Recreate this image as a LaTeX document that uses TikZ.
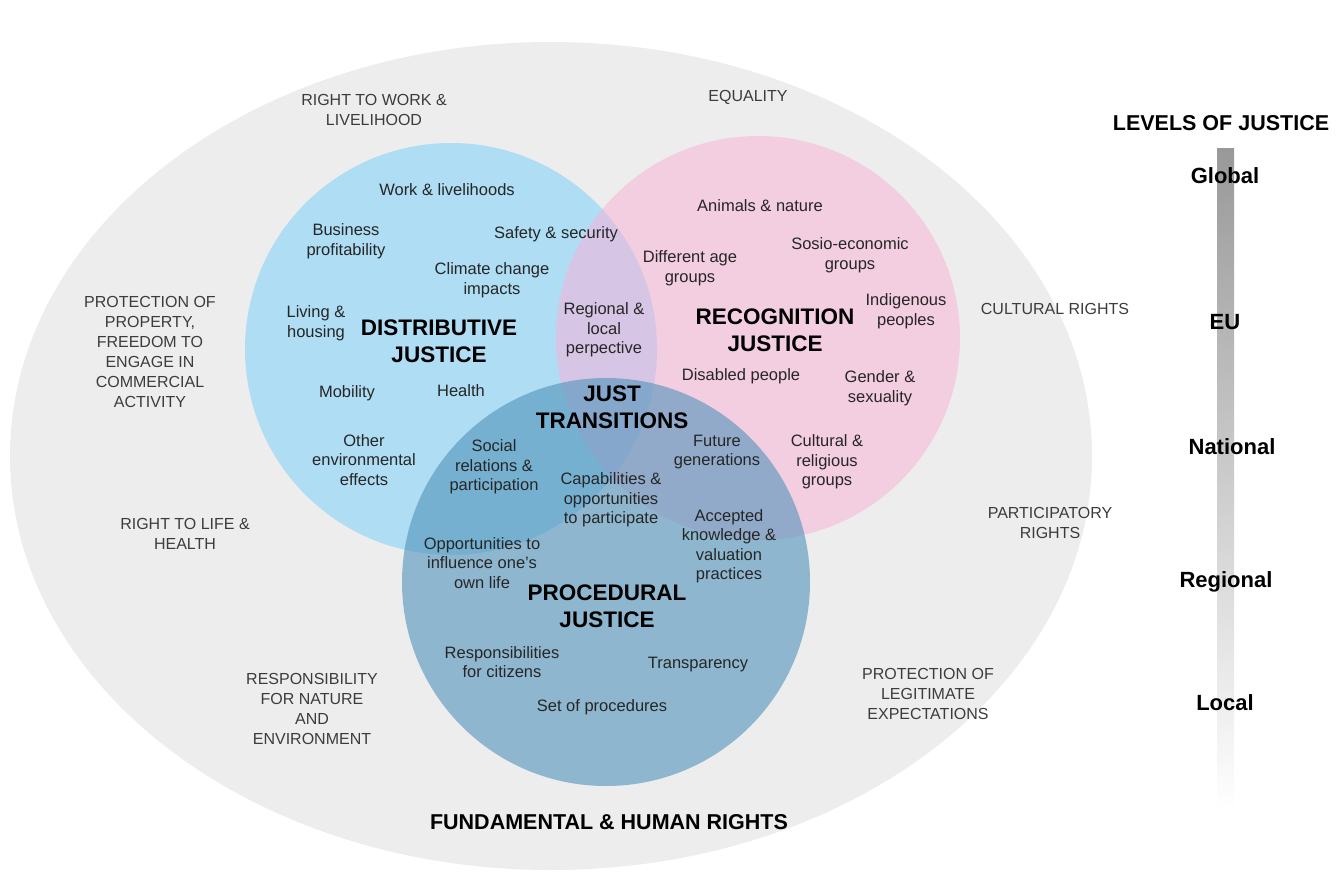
\documentclass[tikz,border=0pt]{standalone}
\usepackage{fontspec}
\setmainfont{Liberation Sans}
\usepackage{tikz}
\usepackage{xcolor}
\definecolor{rights-gray}{RGB}{237,237,237}
\definecolor{distributive-blue}{RGB}{174,221,244}
\definecolor{recognition-pink}{RGB}{248,179,215}
\definecolor{procedural-blue}{RGB}{80,147,187}
\definecolor{text-dark}{RGB}{38,38,38}
\tikzset{
    item-text/.style = {text=text-dark, align=center, inner sep=0pt, font=\fontsize{16.5}{19.5}\selectfont},
    rights-text/.style = {text=text-dark!90, align=center, inner sep=0pt, font=\fontsize{16}{20}\selectfont},
    justice-title/.style = {text=black, align=center, inner sep=0pt, font=\bfseries\fontsize{22.5}{27.5}\selectfont},
    level-text/.style = {text=black, inner sep=0pt, font=\bfseries\fontsize{22}{26}\selectfont},
}

\begin{document}
\begin{tikzpicture}[x=1pt, y=-1pt]
\useasboundingbox (0,0) rectangle (1343,879);
\fill[white] (0,0) rectangle (1343,879);
\fill[rights-gray] (551,456) ellipse [x radius=541, y radius=414];
\fill[distributive-blue] (451,349) circle [radius=206];
\fill[recognition-pink, opacity=0.55] (758,338) circle [radius=202];
\fill[procedural-blue, opacity=0.6] (606,582) circle [radius=204];
\shade[top color=black!40, middle color=black!18, bottom color=white] (1217,148) rectangle (1234,812);

\node[rights-text] (work-right) at (374,110) {RIGHT TO WORK \&\\LIVELIHOOD};
\node[rights-text] (equality) at (748,97) {EQUALITY};
\node[rights-text] (property) at (150,352) {PROTECTION OF\\PROPERTY,\\FREEDOM TO\\ENGAGE IN\\COMMERCIAL\\ACTIVITY};
\node[rights-text] (cultural-rights) at (1055,309) {CULTURAL RIGHTS};
\node[rights-text] (life-right) at (185,534) {RIGHT TO LIFE \&\\HEALTH};
\node[rights-text] (participatory) at (1050,523) {PARTICIPATORY\\RIGHTS};
\node[rights-text] (nature-resp) at (312,709) {RESPONSIBILITY\\FOR NATURE\\AND\\ENVIRONMENT};
\node[rights-text] (expectations) at (928,694) {PROTECTION OF\\LEGITIMATE\\EXPECTATIONS};
\node[justice-title, font=\bfseries\fontsize{21.5}{26}\selectfont] (fundamental) at (609,822) {FUNDAMENTAL \& HUMAN RIGHTS};

\node[item-text] (work) at (447,190) {Work \& livelihoods};
\node[item-text] (business) at (346,241) {Business\\profitability};
\node[item-text] (safety) at (556,234) {Safety \& security};
\node[item-text] (climate) at (492,280) {Climate change\\impacts};
\node[item-text] (living) at (316,323) {Living \&\\housing};
\node[justice-title] (distributive) at (439,341) {DISTRIBUTIVE\\JUSTICE};
\node[item-text] (regional) at (604,330) {Regional \&\\local\\perpective};
\node[item-text] (mobility) at (347,393) {Mobility};
\node[item-text] (health) at (461,391) {Health};
\node[justice-title] (just) at (612,407) {JUST\\TRANSITIONS};
\node[item-text] (environmental) at (364,460) {Other\\environmental\\effects};
\node[item-text] (social) at (494,467) {Social\\relations \&\\participation};
\node[item-text] (capabilities) at (611,500) {Capabilities \&\\opportunities\\to participate};
\node[item-text] (future) at (717,452) {Future\\generations};
\node[item-text] (religious) at (827,462) {Cultural \&\\religious\\groups};
\node[item-text] (knowledge) at (729,546) {Accepted\\knowledge \&\\valuation\\practices};
\node[item-text] (influence) at (482,563) {Opportunities to\\influence one’s\\own life};
\node[justice-title] (procedural) at (607,606) {PROCEDURAL\\JUSTICE};
\node[item-text] (citizens) at (502,662) {Responsibilities\\for citizens};
\node[item-text] (transparency) at (698,665) {Transparency};
\node[item-text] (procedures) at (602,707) {Set of procedures};
\node[item-text] (animals) at (760,206) {Animals \& nature};
\node[item-text] (age) at (690,268) {Different age\\groups};
\node[item-text] (socio) at (850,255) {Sosio-economic\\groups};
\node[item-text] (indigenous) at (906,311) {Indigenous\\peoples};
\node[justice-title] (recognition) at (775,330) {RECOGNITION\\JUSTICE};
\node[item-text] (disabled) at (741,376) {Disabled people};
\node[item-text] (gender) at (880,388) {Gender \&\\sexuality};

\node[justice-title, font=\bfseries\fontsize{21.5}{26}\selectfont] (levels) at (1221,123) {LEVELS OF JUSTICE};
\node[level-text] (global) at (1225,176) {Global};
\node[level-text] (eu) at (1225,322) {EU};
\node[level-text] (national) at (1232,447) {National};
\node[level-text] (regional-level) at (1226,582) {Regional};
\node[level-text] (local) at (1225,703) {Local};
\end{tikzpicture}
\end{document}
